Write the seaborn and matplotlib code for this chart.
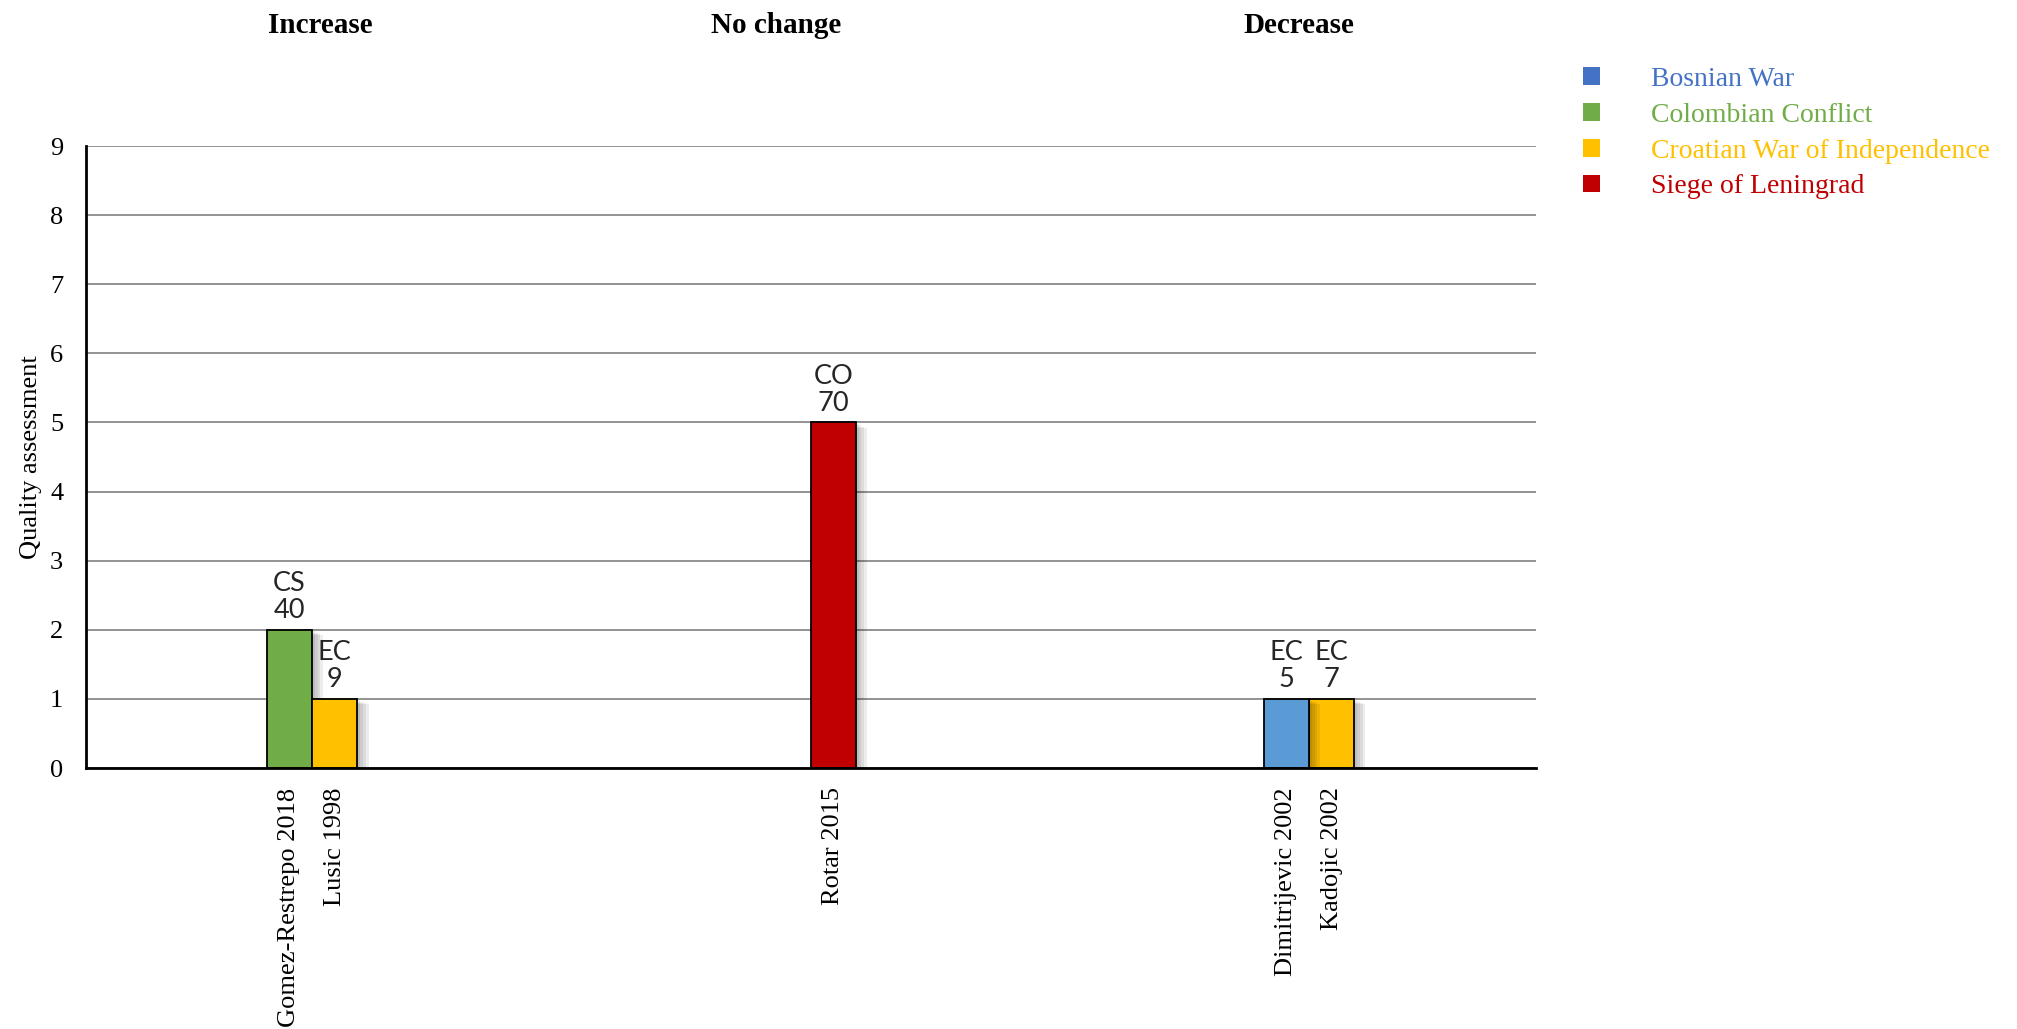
import numpy as np
import pandas as pd
import matplotlib
matplotlib.use("Agg")
import matplotlib.pyplot as plt
import matplotlib.patheffects as pe
from matplotlib.patches import Patch
import seaborn as sns

# ===============================
# Data
# ===============================

studies = ["Gomez-Restrepo 2018", "Lusic 1998", "Rotar 2015",
           "Dimitrijevic 2002", "Kadojic 2002"]
quality = [2, 1, 5, 1, 1]
conflict = ["Colombian Conflict", "Croatian War of Independence",
            "Siege of Leningrad", "Bosnian War", "Croatian War of Independence"]
design = ["CS", "EC", "CO", "EC", "EC"]
sample_n = [40, 9, 70, 5, 7]

# category axis of the sheet (blank rows keep their slot)
axis_rows = ([""] * 4 + ["Gomez-Restrepo 2018", "Lusic 1998"] + [""] * 10
             + ["Rotar 2015"] + [""] * 9
             + ["Dimitrijevic 2002", "Kadojic 2002"] + [""] * 4)

groups = ["Increase", "No change", "Decrease"]

legend_names = ["Bosnian War", "Colombian Conflict",
                "Croatian War of Independence", "Siege of Leningrad"]
legend_colors = ["#4472C4", "#70AD47", "#FFC000", "#C00000"]
bar_colors = {"Bosnian War": "#5B9BD5", "Colombian Conflict": "#70AD47",
              "Croatian War of Independence": "#FFC000",
              "Siege of Leningrad": "#C00000"}

df = pd.DataFrame({"Study": studies, "Quality": quality,
                   "Conflict": conflict, "Design": design, "N": sample_n})

order = [name if name else f"_blank{i}" for i, name in enumerate(axis_rows)]

# ===============================
# Plot
# ===============================

sns.set_theme(style="white")
plt.rcParams["font.family"] = ["Liberation Serif", "DejaVu Serif"]

fig = plt.figure(figsize=(20.17, 10.29), dpi=100)
ax = fig.add_axes([0.0424, 0.2536, 0.7189, 0.6045])

sns.barplot(
    data=df, x="Study", y="Quality", hue="Conflict",
    order=order, palette=bar_colors, dodge=False, width=1.0,
    saturation=1, edgecolor="black", linewidth=1.3, legend=False, ax=ax
)

# soft drop shadow, a few stacked offsets
shadow = [pe.SimplePatchShadow(offset=(k, -k * 0.5), shadow_rgbFace="black",
                               alpha=0.07) for k in (2, 4, 6, 8)]
for p in ax.patches:
    p.set_path_effects(shadow + [pe.Normal()])

# labels above bars
for s, q, d, n in zip(studies, quality, design, sample_n):
    ax.annotate(f"{d}\n{n}", xy=(order.index(s), q), xytext=(0, 5),
                textcoords="offset points", ha="center", va="bottom",
                fontsize=19.5, family="Lato", linespacing=1.1)

ax.set_xlim(-0.5, len(order) - 0.5)
ax.set_ylim(0, 9)
ax.set_yticks(range(0, 10))
ax.yaxis.grid(True, color="#808080", linewidth=1.2)
ax.xaxis.grid(False)
ax.set_axisbelow(True)

ax.set_xticks(range(len(order)), labels=axis_rows, rotation=90)
ax.tick_params(axis="x", length=0, pad=14, labelsize=19, colors="black")
ax.tick_params(axis="y", length=0, pad=16, labelsize=19, colors="black")
ax.set_xlabel("")
ax.set_ylabel("Quality assessment", fontsize=19, color="black", labelpad=6)

for side in ["top", "right"]:
    ax.spines[side].set_visible(False)
for side in ["left", "bottom"]:
    ax.spines[side].set_color("black")
    ax.spines[side].set_linewidth(2)

# group headers
for g, xf in zip(groups, [0.159, 0.385, 0.644]):
    fig.text(xf, 0.975, g, ha="center", va="center",
             fontsize=21, fontweight="bold", color="black")

# legend
handles = [Patch(facecolor=c, edgecolor="none") for c in legend_colors]
leg = fig.legend(
    handles, legend_names, loc="upper left", bbox_to_anchor=(0.785, 0.935),
    frameon=False, fontsize=20, handlelength=0.6, handleheight=0.6,
    handletextpad=1.85, labelspacing=0.39, borderpad=0, borderaxespad=0
)
for t, c in zip(leg.get_texts(), legend_colors):
    t.set_color(c)

plt.savefig("out.png", dpi=100)
